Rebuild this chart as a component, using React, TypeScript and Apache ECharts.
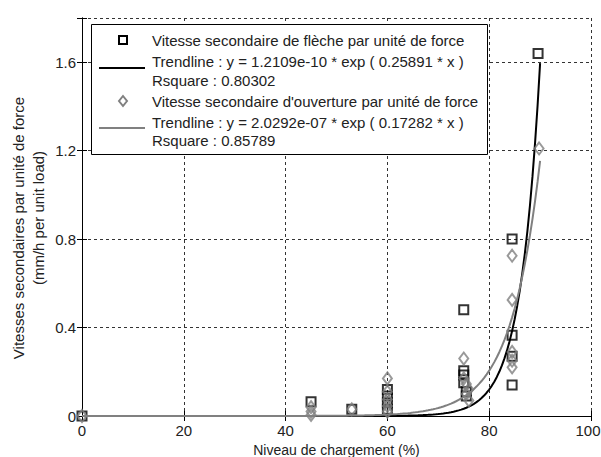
import React, { useEffect, useRef } from "react";
import * as echarts from "echarts";

// Data
const flecheX = [0, 45, 53, 60, 60, 60, 60, 75, 75, 75, 75, 75.5, 75.5, 84.5, 84.5, 84.5, 84.5, 89.6];
const flecheY = [0, 0.065, 0.03, 0.12, 0.09, 0.06, 0.03, 0.48, 0.205, 0.185, 0.15, 0.11, 0.09, 0.8, 0.365, 0.27, 0.14, 1.64];

const ouvertureX = [0, 45, 45, 45, 53, 60, 60, 60, 60, 60, 75, 75, 75.5, 76, 75.5, 76, 84.5, 84.5, 84.5, 84.5, 84.5, 89.8];
const ouvertureY = [0, 0.04, 0.02, 0.005, 0.03, 0.17, 0.11, 0.075, 0.045, 0.02, 0.26, 0.17, 0.145, 0.12, 0.1, 0.07, 0.725, 0.525, 0.29, 0.25, 0.22, 1.21];

// Trendline coefficients shown in the legend: y = a * exp(b * x)
const trend1 = { a: 1.2109e-10, b: 0.25891, r2: "0.80302", aText: "1.2109e-10", bText: "0.25891" };
const trend2 = { a: 2.0292e-7, b: 0.17282, r2: "0.85789", aText: "2.0292e-07", bText: "0.17282" };
const trendXRange = [0, 90];

const xTicks = [0, 20, 40, 60, 80, 100];
const yTicks = [0, 0.4, 0.8, 1.2, 1.6];

const legendLabels = [
  "Vitesse secondaire de flèche par unité de force",
  `Trendline : y = ${trend1.aText} * exp ( ${trend1.bText} * x )`,
  `Rsquare : ${trend1.r2}`,
  "Vitesse secondaire d'ouverture par unité de force",
  `Trendline : y = ${trend2.aText} * exp ( ${trend2.bText} * x )`,
  `Rsquare : ${trend2.r2}`,
];

const FONT = "'Liberation Sans', Arial, sans-serif";
const TXT = "#222";
const GRAY = "#808080";
const FS = 15;

function trendData(t: { a: number; b: number }) {
  const out: number[][] = [];
  for (let x = trendXRange[0]; x <= trendXRange[1] + 1e-9; x += 0.5) {
    out.push([x, t.a * Math.exp(t.b * x)]);
  }
  return out;
}

export default function App() {
  const ref = useRef<HTMLDivElement>(null);
  useEffect(() => {
    if (!ref.current) return;
    const chart = echarts.init(ref.current, null, { renderer: "svg" });
    const axisLine = { show: true, lineStyle: { color: "#000", width: 1 } };
    const splitLine = { show: true, lineStyle: { color: "#333", type: [3, 3] as any, width: 1 } };
    const lineY = [40, 61, 80, 101, 122, 140];
    const Z = 100;
    const xMax = xTicks[xTicks.length - 1];
    chart.setOption({
      animation: false,
      backgroundColor: "#fff",
      grid: { left: 82, right: 10, top: 18, bottom: 41, containLabel: false, outerBoundsMode: "none" },
      xAxis: [
        {
          type: "value",
          min: xTicks[0],
          max: xMax,
          interval: 20,
          name: "Niveau de chargement (%)",
          nameLocation: "middle",
          nameGap: 25,
          nameTextStyle: { fontFamily: FONT, fontSize: 14, color: TXT },
          axisLine,
          axisTick: { inside: true, length: 5, lineStyle: { color: "#000" } },
          axisLabel: {
            fontFamily: FONT,
            fontSize: FS,
            color: TXT,
            margin: 7,
            formatter: (v: number) => (v === xMax ? `{m|${v}}` : String(v)),
            rich: { m: { fontFamily: FONT, fontSize: FS, color: TXT, padding: [0, 6, 0, 0] } },
          },
          splitLine,
        },
        {
          type: "value",
          position: "top",
          min: xTicks[0],
          max: xMax,
          interval: 20,
          axisLine,
          axisTick: { inside: true, length: 5, lineStyle: { color: "#000" } },
          axisLabel: { show: false },
          splitLine: { show: false },
        },
      ],
      yAxis: [
        {
          type: "value",
          min: 0,
          max: 1.8,
          interval: 0.4,
          axisLine,
          axisTick: { inside: true, length: 5, lineStyle: { color: "#000" } },
          axisLabel: {
            fontFamily: FONT,
            fontSize: FS,
            color: TXT,
            margin: 6,
            formatter: (v: number) => {
              const r = Math.round(v * 10) / 10;
              return yTicks.indexOf(r) >= 0 ? String(r) : "";
            },
          },
          splitLine,
        },
        {
          type: "value",
          position: "right",
          min: 0,
          max: 1.8,
          interval: 0.4,
          axisLine,
          axisTick: { inside: true, length: 5, lineStyle: { color: "#000" } },
          axisLabel: { show: false },
          splitLine: { show: false },
        },
      ],
      series: [
        {
          type: "scatter",
          name: legendLabels[0],
          data: flecheX.map((x, i) => [x, flecheY[i]]),
          symbol: "rect",
          symbolSize: 9,
          itemStyle: { color: "rgba(0,0,0,0)", borderColor: "#000", borderWidth: 2 },
          z: 2,
        },
        {
          type: "line",
          name: "trend1",
          data: trendData(trend1),
          showSymbol: false,
          symbol: "none",
          lineStyle: { color: "#000", width: 2 },
          z: 3,
        },
        {
          type: "scatter",
          name: legendLabels[3],
          data: ouvertureX.map((x, i) => [x, ouvertureY[i]]),
          symbol: "diamond",
          symbolSize: [9, 12],
          itemStyle: { color: "rgba(0,0,0,0)", borderColor: GRAY, borderWidth: 2 },
          z: 4,
        },
        {
          type: "line",
          name: "trend2",
          data: trendData(trend2),
          showSymbol: false,
          symbol: "none",
          lineStyle: { color: GRAY, width: 2 },
          z: 5,
        },
      ],
      graphic: [
        {
          type: "text",
          x: 18,
          y: 228,
          rotation: Math.PI / 2,
          style: {
            text: "Vitesses secondaires par unité de force",
            fontFamily: FONT,
            fontSize: FS,
            fill: TXT,
            align: "center",
            verticalAlign: "middle",
          },
        },
        {
          type: "text",
          x: 38,
          y: 218,
          rotation: Math.PI / 2,
          style: {
            text: "(mm/h per unit load)",
            fontFamily: FONT,
            fontSize: FS,
            fill: TXT,
            align: "center",
            verticalAlign: "middle",
          },
        },
        {
          type: "rect",
          z: Z,
          shape: { x: 91.5, y: 24.5, width: 396, height: 130 },
          style: { fill: "#fff", stroke: "#000", lineWidth: 1 },
        },
        {
          type: "rect",
          z: Z + 1,
          shape: { x: 119, y: 36, width: 8, height: 8 },
          style: { fill: "none", stroke: "#000", lineWidth: 2 },
        },
        {
          type: "line",
          z: Z + 1,
          shape: { x1: 99, y1: 68, x2: 145, y2: 68 },
          style: { stroke: "#000", lineWidth: 2 },
        },
        {
          type: "polygon",
          z: Z + 1,
          shape: { points: [[123, 96], [127, 101], [123, 106], [119, 101]] },
          style: { fill: "none", stroke: GRAY, lineWidth: 2 },
        },
        {
          type: "line",
          z: Z + 1,
          shape: { x1: 99, y1: 128, x2: 145, y2: 128 },
          style: { stroke: GRAY, lineWidth: 2 },
        },
        ...legendLabels.map((t, i) => ({
          type: "text",
          z: Z + 1,
          x: 152,
          y: lineY[i],
          style: {
            text: t,
            fontFamily: FONT,
            fontSize: FS,
            fill: TXT,
            align: "left",
            verticalAlign: "middle",
          },
        })),
      ],
    });
    return () => chart.dispose();
  }, []);
  return (
    <div
      ref={ref}
      style={{ position: "fixed", left: 0, top: 0, width: 601, height: 457, background: "#fff" }}
    />
  );
}
